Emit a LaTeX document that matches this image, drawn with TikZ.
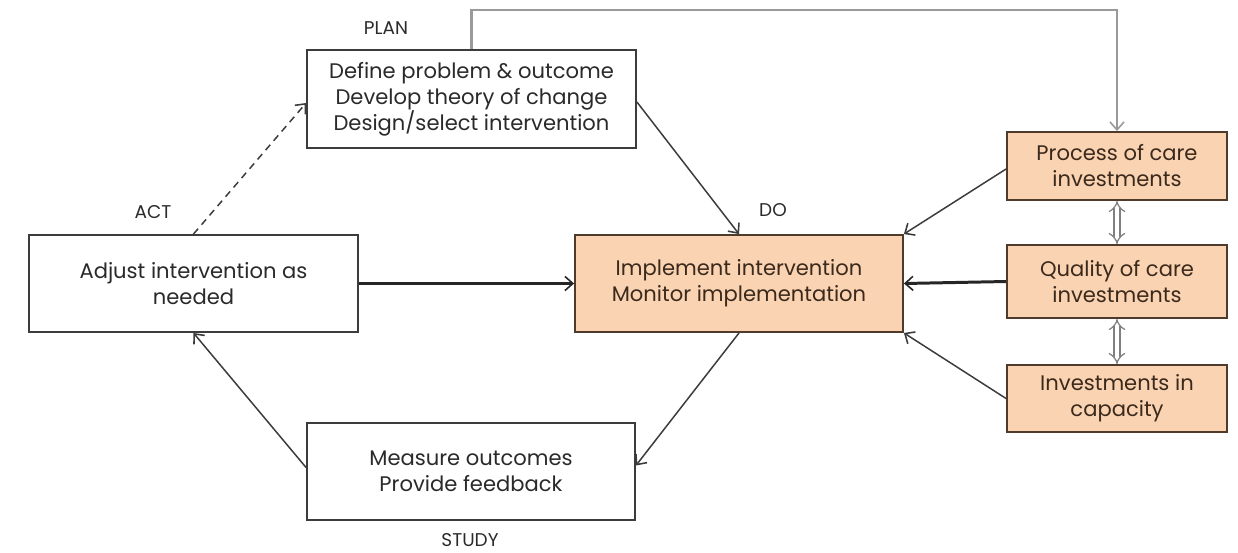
\documentclass[tikz,border=0pt]{standalone}
\usepackage{fontspec}
\setmainfont{Poppins}
\usetikzlibrary{arrows.meta,calc}
\definecolor{peach}{HTML}{FAD3B3}
\definecolor{peachedge}{HTML}{4E3B2C}
\definecolor{boxedge}{HTML}{3C3C3C}
\definecolor{wiregray}{HTML}{9A9A9A}
\definecolor{inktext}{HTML}{2A2A2A}
\definecolor{browntext}{HTML}{3B2A1C}
\begin{document}
\begin{tikzpicture}[x=0.02cm,y=-0.02cm,
  font=\fontsize{12}{14.8}\selectfont,
  plainbox/.style={draw=boxedge,line width=1.1pt,fill=white,text=inktext,
    align=center,inner sep=0pt},
  peachbox/.style={draw=peachedge,line width=1.1pt,fill=peach,text=browntext,
    align=center,inner sep=0pt},
  phase/.style={font=\fontsize{10.5}{12}\selectfont,text=inktext},
  tip/.style={-{Straight Barb[length=4.5pt,width=8pt,line width=0.9pt]}},
  thinarrow/.style={tip,draw=boxedge,line width=0.85pt},
  thickarrow/.style={tip,draw=black!85,line width=1.7pt},
  graywire/.style={-{Straight Barb[length=4.5pt,width=8pt,line width=0.9pt]},
    draw=wiregray,line width=1.4pt},
  linkboth/.style={{Implies}-{Implies},draw=gray,double,double distance=2.6pt,
    line width=0.7pt}]
\useasboundingbox (0,0) rectangle (1238,552);

% PDSA cycle boxes
\node[plainbox,minimum width=6.58cm,minimum height=1.96cm] (plan) at (471.5,99)
  {Define problem \& outcome\\Develop theory of change\\Design/select intervention};
\node[plainbox,minimum width=6.58cm,minimum height=1.94cm] (adjust) at (193.5,283.5)
  {Adjust intervention as\\needed};
\node[peachbox,minimum width=6.56cm,minimum height=1.94cm] (do) at (739,283.5)
  {Implement intervention\\Monitor implementation};
\node[plainbox,minimum width=6.56cm,minimum height=1.94cm] (study) at (471,471.5)
  {Measure outcomes\\Provide feedback};

% investment boxes
\node[peachbox,minimum width=4.4cm,minimum height=1.36cm] (process) at (1117,166)
  {Process of care\\investments};
\node[peachbox,minimum width=4.4cm,minimum height=1.46cm] (quality) at (1117,281.5)
  {Quality of care\\investments};
\node[peachbox,minimum width=4.4cm,minimum height=1.34cm] (capacity) at (1117,398.5)
  {Investments in\\capacity};

% phase labels
\node[phase] (lplan) at (386,28) {PLAN};
\node[phase] (lact) at (153,212) {ACT};
\node[phase] (ldo) at (773,210) {DO};
\node[phase] (lstudy) at (470,540) {STUDY};

% connectors
\coordinate (topright) at (1117,10);
\draw[graywire] (plan.north) |- (topright) -- (process.north);
\draw[thinarrow,dashed,dash pattern=on 4pt off 3pt] (adjust.north) -- ($(plan.west)+(0,4)$);
\draw[thinarrow] ($(plan.east)+(0,3)$) -- (do.north);
\draw[thickarrow] (adjust.east) -- (do.west);
\draw[thinarrow] (do.south) -- ($(study.east)+(0,-6)$);
\draw[thinarrow] ($(study.west)+(0,-4)$) -- (adjust.south);
\draw[thinarrow] ($(process.west)+(0,3)$) -- (do.north east);
\draw[thickarrow] (quality.west) -- (do.east);
\draw[thinarrow] (capacity.west) -- (do.south east);
\draw[linkboth] (process.south) -- (quality.north);
\draw[linkboth] (quality.south) -- (capacity.north);
\end{tikzpicture}
\end{document}
